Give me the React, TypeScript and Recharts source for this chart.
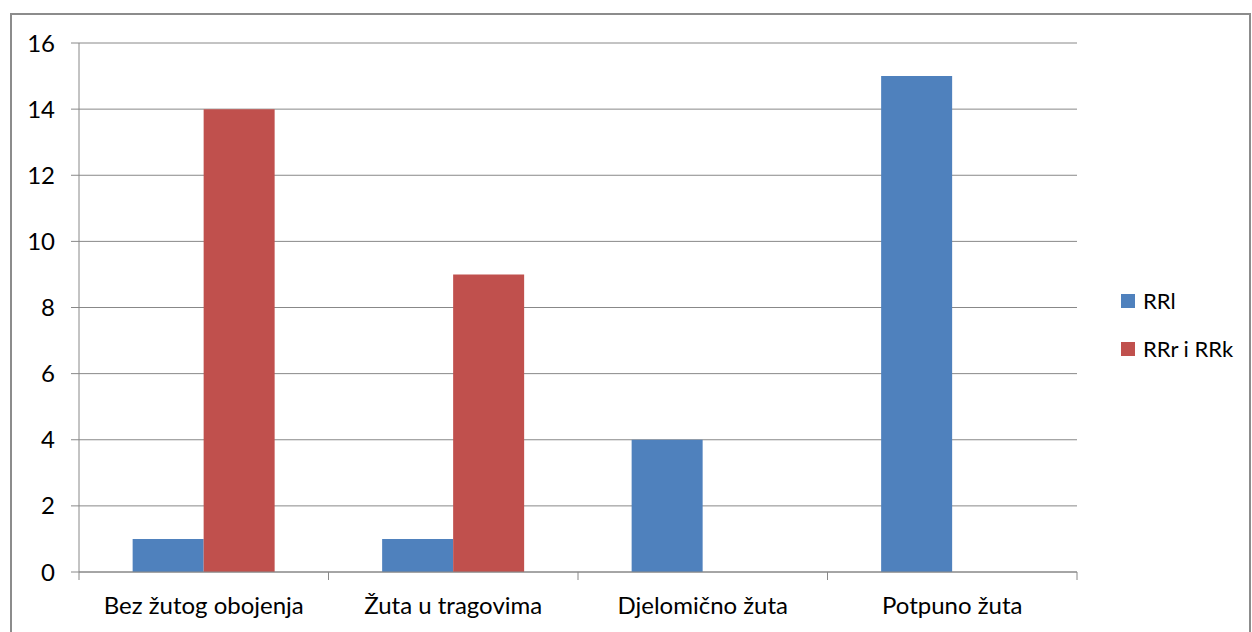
import { Bar, BarChart, CartesianGrid, XAxis, YAxis } from "recharts";

const categories = ["Bez žutog obojenja", "Žuta u tragovima", "Djelomično žuta", "Potpuno žuta"];
const rrl = [1, 1, 4, 15];
const rrrRrk = [14, 9, 0, 0];
const yTicks = [0, 2, 4, 6, 8, 10, 12, 14, 16];

const series = [
  { key: "rrl", name: "RRl", color: "#4F81BD" },
  { key: "rrr", name: "RRr i RRk", color: "#C0504D" },
];

const data = categories.map((name, i) => ({ name, rrl: rrl[i], rrr: rrrRrk[i] }));

const font = "Lato, 'Open Sans', sans-serif";
const gridColor = "#888888";
const labelGap = 25;

// category label plus the small tick marks between categories
const CategoryTick = (props: any) => {
  const { x, y, payload, index, width, visibleTicksCount } = props;
  const half = payload?.offset ?? width / (visibleTicksCount * 2);
  const axisY = y - labelGap;
  return (
    <g>
      <line x1={x - half} x2={x - half} y1={axisY} y2={axisY + 8} stroke={gridColor} />
      {index === visibleTicksCount - 1 && (
        <line x1={x + half} x2={x + half} y1={axisY} y2={axisY + 8} stroke={gridColor} />
      )}
      <text x={x} y={y} dy="0.71em" textAnchor="middle" fill="#000" fontSize={24} fontFamily={font}>
        {payload.value}
      </text>
    </g>
  );
};

export default function App() {
  return (
    <div style={{ position: "absolute", left: 0, top: 0, width: 1252, height: 632, overflow: "hidden", background: "#fff", fontFamily: font }}>
      <div style={{ position: "absolute", left: 10, top: 13, width: 1237, height: 700, border: "2px solid #8c8c8c" }} />
      <BarChart
        width={1252}
        height={632}
        data={data}
        margin={{ top: 43, right: 175, bottom: 30, left: 0 }}
        barCategoryGap="21.5%"
        barGap={0}
        style={{ position: "absolute", left: 0, top: 0 }}
      >
        <CartesianGrid stroke={gridColor} vertical={false} />
        <XAxis
          dataKey="name"
          height={30}
          axisLine={{ stroke: gridColor }}
          tickLine={false}
          tickSize={0}
          tickMargin={labelGap}
          tick={<CategoryTick />}
          interval={0}
        />
        <YAxis
          width={79}
          domain={[0, 16]}
          ticks={yTicks}
          axisLine={{ stroke: gridColor }}
          tickLine={{ stroke: gridColor }}
          tickSize={8}
          tickMargin={16}
          tick={{ fill: "#000", fontSize: 24, fontFamily: font }}
        />
        {series.map((s) => (
          <Bar key={s.key} dataKey={s.key} name={s.name} fill={s.color} isAnimationActive={false} />
        ))}
      </BarChart>
      {series.map((s, i) => (
        <div key={s.key} style={{ position: "absolute", left: 1121, top: 288 + i * 48, display: "flex", alignItems: "center", fontSize: 22, color: "#000", lineHeight: "26px" }}>
          <span style={{ display: "inline-block", width: 14, height: 14, background: s.color, marginRight: 8 }} />
          {s.name}
        </div>
      ))}
    </div>
  );
}
